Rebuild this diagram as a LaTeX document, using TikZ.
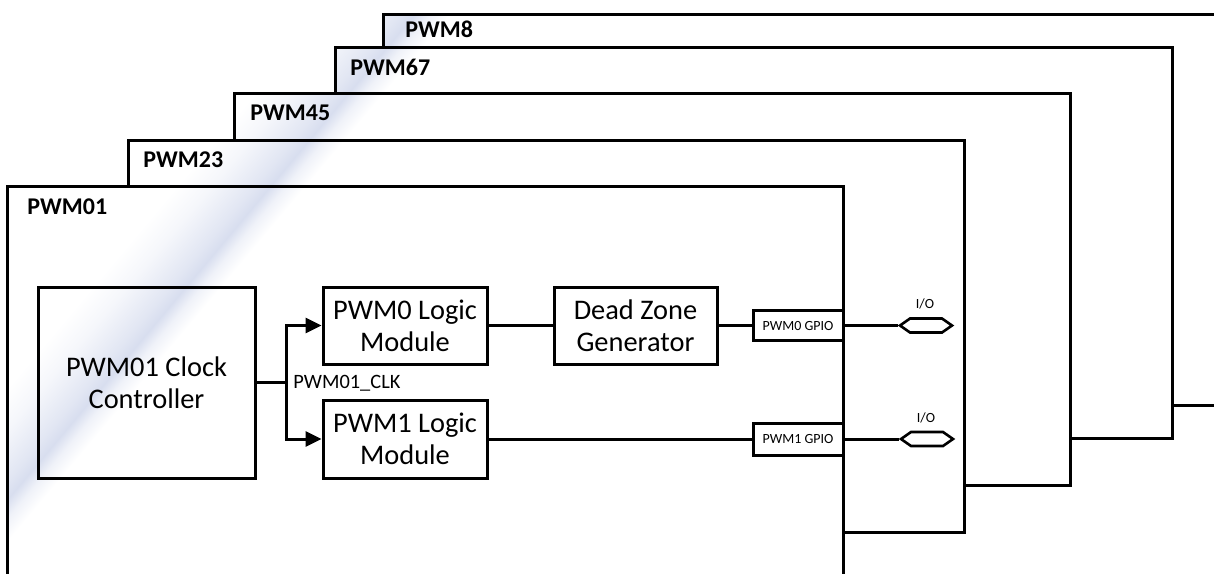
\documentclass[tikz,border=0pt]{standalone}
\usepackage{fontspec}
\setmainfont{Carlito}
\usetikzlibrary{arrows.meta,shapes.symbols}
\definecolor{glassblue}{RGB}{216,222,239}
\pgfdeclarehorizontalshading{glass}{100bp}{color(0bp)=(white); color(25bp)=(white);
  color(34bp)=(glassblue!25); color(45bp)=(glassblue!75); color(49bp)=(glassblue); color(53bp)=(glassblue!40);
  color(58bp)=(white); color(100bp)=(white)}

\begin{document}
\begin{tikzpicture}[x=0.5pt,y=-0.5pt,
    frame/.style={line width=1.5pt},
    framelbl/.style={font=\bfseries\fontsize{12}{14}\selectfont, inner sep=0pt, anchor=west},
    blk/.style={draw, line width=1.5pt, align=center, inner sep=0pt, font=\fontsize{14.2}{16}\selectfont},
    gpiobox/.style={draw, line width=1.5pt, inner sep=0pt, minimum width=45pt, font=\fontsize{7}{8}\selectfont},
    small/.style={inner sep=0pt, font=\fontsize{7}{8}\selectfont},
    wire/.style={line width=1.5pt},
    flow/.style={wire, -{Triangle[length=8pt,width=7.5pt]}},
    ioport/.style={draw, line width=1.3pt, shape=signal, signal to=east and west, signal pointer angle=70,
      minimum width=26pt, minimum height=7pt, inner sep=0pt}]
  \clip (0,0) rectangle (1214,573);
  \foreach \nm/\l/\t/\r/\b/\lx/\ly in {PWM8/383/14/1240/405/22/15, PWM67/335/47/1172/438/15/20,
      PWM45/234/93/1070/485/16/20, PWM23/128/140/964/532/15/20, PWM01/7/186/843/620/20/21}{
    \fill[white] (\l,\t) rectangle (\r,\b);
    \begin{scope}
      \clip (\l,\t) rectangle (\r,\b);
      \shade[shading=glass, transform canvas={shift={(250,215)}, rotate=-40}] (-75,-800) rectangle (75,800);
    \end{scope}
    \draw[frame] (\l,\t) rectangle (\r,\b);
    \node[framelbl] (lbl-\nm) at (\l+\lx,\t+\ly) {\nm};
  }
  \node[blk, minimum width=108.5pt, minimum height=95.5pt] (clkctrl) at (146.5,382.5) {PWM01 Clock\\Controller};
  \node[blk, minimum width=82pt, minimum height=38.5pt] (logic0) at (405,325.5) {PWM0 Logic\\Module};
  \node[blk, minimum width=82pt, minimum height=39pt] (logic1) at (405,439) {PWM1 Logic\\Module};
  \node[blk, minimum width=81.5pt, minimum height=38.5pt] (deadzone) at (635.5,325.5) {Dead Zone\\Generator};
  \node[gpiobox, minimum height=15pt] (gpio0) at (798,325.5) {PWM0 GPIO};
  \node[gpiobox, minimum height=16pt] (gpio1) at (798,439) {PWM1 GPIO};
  \node[ioport] (io0) at (926,325.5) {};
  \node[ioport] (io1) at (927,439) {};
  \node[small] (io0txt) at (925,304) {I/O};
  \node[small] (io1txt) at (926,418) {I/O};
  \coordinate (clksplit) at (286,382.5);
  \node[small, anchor=west, font=\fontsize{10.2}{11}\selectfont] (clklbl) at (293,383) {PWM01\_CLK};
  \draw[wire] (clkctrl.east) -- (clksplit);
  \draw[flow] (clksplit) |- (logic0.west);
  \draw[flow] (clksplit) |- (logic1.west);
  \draw[wire] (logic0.east) -- (deadzone.west);
  \draw[wire] (deadzone.east) -- (gpio0.west);
  \draw[wire] (logic1.east) -- (gpio1.west);
  \draw[wire] (gpio0.east) -- (io0.west);
  \draw[wire] (gpio1.east) -- (io1.west);
\end{tikzpicture}
\end{document}
